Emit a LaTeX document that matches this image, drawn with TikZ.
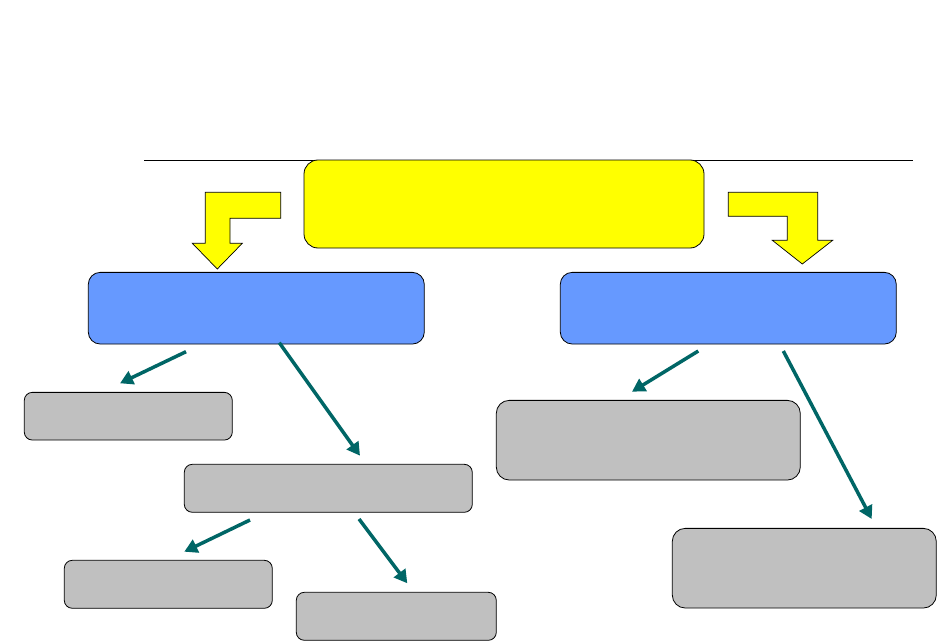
\documentclass[tikz,border=0pt]{standalone}
\usetikzlibrary{arrows.meta}
\definecolor{ylw}{RGB}{255,255,0}
\definecolor{blu}{RGB}{102,153,255}
\definecolor{gry}{RGB}{192,192,192}
\definecolor{teal2}{RGB}{0,102,102}
\begin{document}
\begin{tikzpicture}[x=1pt,y=-1pt,
  box/.style={draw=black,line width=0.8pt,inner sep=0pt,rectangle},
  ybox/.style={box,fill=ylw,rounded corners=14pt},
  bbox/.style={box,fill=blu,rounded corners=12pt},
  gbox/.style={box,fill=gry,rounded corners=8pt},
  gboxl/.style={box,fill=gry,rounded corners=13pt},
  bent/.style={fill=ylw,draw=black,line width=0.7pt,line join=miter},
  conn/.style={draw=teal2,line width=3.5pt,-{Triangle[length=13pt,width=14pt]}}]
\useasboundingbox (0,0) rectangle (938,642);
\fill[white] (0,0) rectangle (938,642);
\draw[line width=0.8pt] (144,160) -- (913,160);
\node[ybox,minimum width=400pt,minimum height=88pt] (top) at (504,204) {};
\node[bbox,minimum width=336pt,minimum height=71.7pt] (bl) at (256.3,308.2) {};
\node[bbox,minimum width=336pt,minimum height=71.7pt] (br) at (728.3,308.2) {};
\node[gbox,minimum width=208pt,minimum height=47.7pt] (g1) at (128.3,416.2) {};
\node[gbox,minimum width=288pt,minimum height=48pt] (g2) at (328.3,488.3) {};
\node[gbox,minimum width=208pt,minimum height=48pt] (g3) at (168.3,584.3) {};
\node[gbox,minimum width=200pt,minimum height=48pt] (g4) at (396.3,616.3) {};
\node[gboxl,minimum width=304pt,minimum height=79.7pt] (g5) at (648.3,440.2) {};
\node[gboxl,minimum width=264pt,minimum height=79.7pt] (g6) at (804.3,568.2) {};
% bent arrows
\draw[bent] (280.7,192.3) -- (205.3,192.3) -- (205.3,243.3) -- (192.3,243.3) -- (217.3,269) -- (242.3,243.3) -- (230,243.3) -- (230,218.3) -- (280.7,218.3) -- cycle;
\draw[bent] (728.3,192.3) -- (817.7,192.3) -- (817.7,240.3) -- (832.7,240.3) -- (802.3,264) -- (772.3,240.3) -- (787.3,240.3) -- (787.3,216.3) -- (728.3,216.3) -- cycle;
% connector endpoints
\coordinate (a1s) at (186,351.7); \coordinate (a1e) at (120,383.3);
\coordinate (a2s) at (279.3,342.7); \coordinate (a2e) at (360,455.7);
\coordinate (a3s) at (250,520); \coordinate (a3e) at (184.3,551.7);
\coordinate (a4s) at (359,519); \coordinate (a4e) at (407.3,583.3);
\coordinate (a5s) at (698.3,351); \coordinate (a5e) at (632,391.7);
\coordinate (a6s) at (783.3,351); \coordinate (a6e) at (871.7,519);
\draw[conn] (a1s) -- (a1e);
\draw[conn] (a2s) -- (a2e);
\draw[conn] (a3s) -- (a3e);
\draw[conn] (a4s) -- (a4e);
\draw[conn] (a5s) -- (a5e);
\draw[conn] (a6s) -- (a6e);
\end{tikzpicture}
\end{document}
